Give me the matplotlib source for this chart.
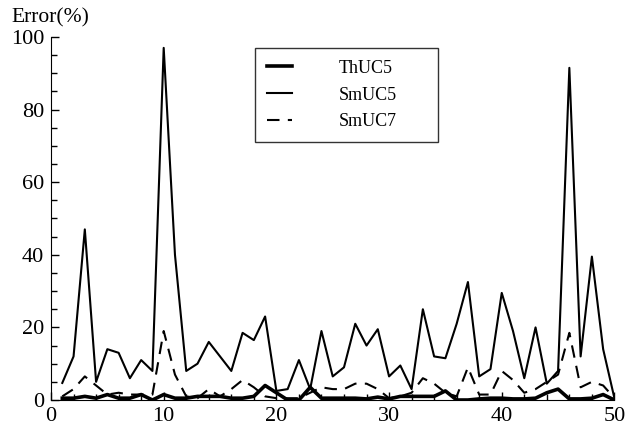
import matplotlib
matplotlib.use("Agg")
import matplotlib.pyplot as plt
import matplotlib.ticker as mticker
import numpy as np

# ── Data ───────────────────────────────────────────────
x = np.arange(1, 51)

thuc5 = [0.5, 0.5, 1.0, 0.5, 1.5, 0.5, 0.5, 1.5, 0.0, 1.5,
         0.5, 0.5, 1.0, 1.0, 1.0, 0.5, 0.5, 1.0, 4.0, 2.0,
         0.0, 0.0, 3.5, 0.5, 0.5, 0.5, 0.5, 0.3, 0.8, 0.3,
         1.0, 1.0, 1.0, 1.0, 2.5, 0.0, 0.0, 0.3, 0.5, 0.5,
         0.3, 0.3, 0.5, 2.0, 3.0, 0.3, 0.3, 0.5, 1.5, 0.0]

smuc5 = [4.7, 12.0, 47.0, 5.0, 14.0, 13.0, 6.0, 11.0, 8.0, 97.0,
         40.0, 8.0, 10.0, 16.0, 12.0, 8.0, 18.5, 16.5, 23.0, 2.5,
         3.0, 11.0, 3.0, 19.0, 6.5, 9.0, 21.0, 15.0, 19.5, 6.5,
         9.5, 3.0, 25.0, 12.0, 11.5, 21.0, 32.5, 6.5, 8.5, 29.5,
         19.0, 6.0, 20.0, 4.5, 8.0, 91.5, 12.0, 39.5, 14.0, 0.5]

smuc7 = [1.0, 3.0, 6.5, 4.0, 1.5, 2.0, 1.5, 1.5, 1.5, 19.0,
         7.0, 1.0, 0.5, 3.0, 1.0, 3.0, 5.5, 3.5, 1.0, 0.5,
         0.5, 0.5, 2.0, 3.5, 3.0, 3.0, 4.5, 4.5, 3.0, 0.5,
         1.0, 2.0, 6.0, 4.5, 2.0, 1.0, 9.0, 1.5, 1.5, 8.0,
         5.5, 2.0, 3.0, 5.0, 7.0, 18.5, 3.5, 5.0, 4.0, 0.5]

plt.rcParams["font.family"] = ["Liberation Serif", "DejaVu Serif"]

fig = plt.figure(figsize=(6.26, 4.29), dpi=100)
ax = fig.add_axes([0.0815, 0.0676, 0.900, 0.8462])

ax.plot(x, thuc5, color="black", linewidth=2.6, label="ThUC5")
ax.plot(x, smuc5, color="black", linewidth=1.5, label="SmUC5")
ax.plot(x, smuc7, color="black", linewidth=1.5, dashes=(6, 4), label="SmUC7")

ax.set_xlim(0, 50)
ax.set_ylim(0, 100)
ax.xaxis.set_major_locator(mticker.MultipleLocator(10))
ax.xaxis.set_minor_locator(mticker.MultipleLocator(2))
ax.yaxis.set_major_locator(mticker.MultipleLocator(20))
ax.yaxis.set_minor_locator(mticker.MultipleLocator(5))
ax.tick_params(which="both", direction="in", labelsize=16, width=1)
ax.tick_params(which="major", length=6)
ax.tick_params(which="minor", length=4)
ax.tick_params(axis="x", pad=5)
ax.tick_params(axis="y", pad=5)
ax.spines["top"].set_visible(False)
ax.spines["right"].set_visible(False)

fig.text(0.019, 0.958, "Error(%)", fontsize=15.5, ha="left", va="center")

leg = ax.legend(loc="upper left", bbox_to_anchor=(0.362, 0.0, 0.325, 0.97),
                mode="expand", fontsize=13,
                frameon=True, fancybox=False, handlelength=1.4,
                handletextpad=2.6, borderpad=0.65, labelspacing=0.55,
                borderaxespad=0)
leg.get_frame().set_edgecolor("black")
leg.get_frame().set_linewidth(1.0)

fig.savefig("out.png", dpi=100)
